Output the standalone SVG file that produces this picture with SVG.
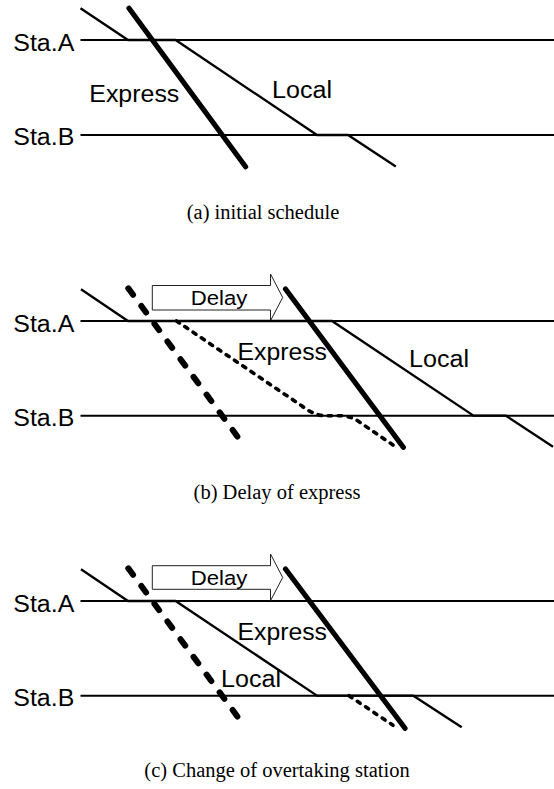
<svg xmlns="http://www.w3.org/2000/svg" width="554" height="789" viewBox="0 0 554 789">
  <style>
    .sta{stroke:#000;stroke-width:2;fill:none}
    .local{stroke:#000;stroke-width:2.3;fill:none}
    .exp{stroke:#000;stroke-width:5.2;stroke-linecap:round;fill:none}
    .expOld{stroke:#000;stroke-width:6;stroke-linecap:round;stroke-dasharray:8 14;fill:none}
    .locOld{stroke:#000;stroke-width:3.6;stroke-linecap:round;stroke-dasharray:3.5 6.5;fill:none}
    .delay{fill:#fff;stroke:#222;stroke-width:1}
    .lbl{font-family:"Liberation Sans",Arial,Helvetica,sans-serif;font-size:23.5px;fill:#000}
    .dl{font-family:"Liberation Sans",Arial,Helvetica,sans-serif;font-size:20.5px;fill:#000}
    .cap{font-family:"Liberation Serif","Times New Roman",serif;font-size:20.5px;fill:#000;text-anchor:middle}
  </style>
  <rect width="554" height="789" fill="#fff"/>

  <!-- (a) initial schedule -->
  <g id="panel-a">
    <g id="stations-a">
      <line class="sta" x1="80.5" y1="40" x2="554" y2="40"/>
      <line class="sta" x1="80.5" y1="135" x2="554" y2="135"/>
      <text class="lbl" x="13.3" y="50.5" textLength="61" lengthAdjust="spacingAndGlyphs">Sta.A</text>
      <text class="lbl" x="13.3" y="145" textLength="61" lengthAdjust="spacingAndGlyphs">Sta.B</text>
    </g>
    <g id="trains-a">
      <polyline class="local" points="80.5,8.3 128,40 175.6,40 317,135 348,135 395.8,166.5"/>
      <line class="exp" x1="129" y1="8.3" x2="245.6" y2="166.7"/>
      <text class="lbl" x="89.3" y="102" textLength="90" lengthAdjust="spacingAndGlyphs">Express</text>
      <text class="lbl" x="272" y="98" textLength="60" lengthAdjust="spacingAndGlyphs">Local</text>
    </g>
    <text id="caption-a" class="cap" x="263" y="219">(a) initial schedule</text>
  </g>

  <!-- (b) Delay of express -->
  <g id="panel-b" transform="translate(0,281)">
    <g id="stations-b">
      <line class="sta" x1="80.5" y1="40" x2="554" y2="40"/>
      <line class="sta" x1="80.5" y1="134.7" x2="554" y2="134.7"/>
      <text class="lbl" x="13.3" y="50.5" textLength="61" lengthAdjust="spacingAndGlyphs">Sta.A</text>
      <text class="lbl" x="13.3" y="144.7" textLength="61" lengthAdjust="spacingAndGlyphs">Sta.B</text>
    </g>
    <g id="delay-b">
      <polygon class="delay" points="152.3,4.5 270.5,4.5 270.5,-7 282.7,16.5 270.5,39.7 270.5,29 152.3,29"/>
      <text class="dl" x="190.7" y="24" textLength="56.6" lengthAdjust="spacingAndGlyphs">Delay</text>
    </g>
    <g id="trains-b">
      <path class="locOld" d="M176.5,40 L302,125 Q314,134.7 326,134.7 L340,134.7 Q350,134.7 358,140 L393,164"/>
      <line class="expOld" x1="128.3" y1="7.3" x2="240" y2="159"/>
      <polyline class="local" points="81,8.3 128,40 332,40 473.5,134.7 506,134.7 553,165.7"/>
      <line class="exp" x1="285.5" y1="8" x2="403.3" y2="166.3"/>
      <text class="lbl" x="237.5" y="79" textLength="89.5" lengthAdjust="spacingAndGlyphs">Express</text>
      <text class="lbl" x="409" y="86" textLength="60" lengthAdjust="spacingAndGlyphs">Local</text>
    </g>
    <text id="caption-b" class="cap" x="277" y="218">(b) Delay of express</text>
  </g>

  <!-- (c) Change of overtaking station -->
  <g id="panel-c" transform="translate(0,561)">
    <g id="stations-c">
      <line class="sta" x1="80.5" y1="40" x2="554" y2="40"/>
      <line class="sta" x1="80.5" y1="134.7" x2="554" y2="134.7"/>
      <text class="lbl" x="13.3" y="50.5" textLength="61" lengthAdjust="spacingAndGlyphs">Sta.A</text>
      <text class="lbl" x="13.3" y="144.7" textLength="61" lengthAdjust="spacingAndGlyphs">Sta.B</text>
    </g>
    <g id="delay-c">
      <polygon class="delay" points="152.3,4.7 270.5,4.7 270.5,-7 282.7,16.5 270.5,39.7 270.5,28.3 152.3,28.3"/>
      <text class="dl" x="190.7" y="24" textLength="56.6" lengthAdjust="spacingAndGlyphs">Delay</text>
    </g>
    <g id="trains-c">
      <line class="expOld" x1="128.3" y1="7.3" x2="240" y2="159"/>
      <path class="locOld" d="M349,134.7 L393,164.3"/>
      <polyline class="local" points="81,8.3 128,40 175.6,40 317,134.7 413.3,134.7 461.7,166.3"/>
      <line class="exp" x1="285.5" y1="8" x2="405" y2="167.3"/>
      <text class="lbl" x="237.5" y="79" textLength="89.5" lengthAdjust="spacingAndGlyphs">Express</text>
      <text class="lbl" x="221" y="125.7" textLength="60" lengthAdjust="spacingAndGlyphs">Local</text>
    </g>
    <text id="caption-c" class="cap" x="277" y="216">(c) Change of overtaking station</text>
  </g>
</svg>
